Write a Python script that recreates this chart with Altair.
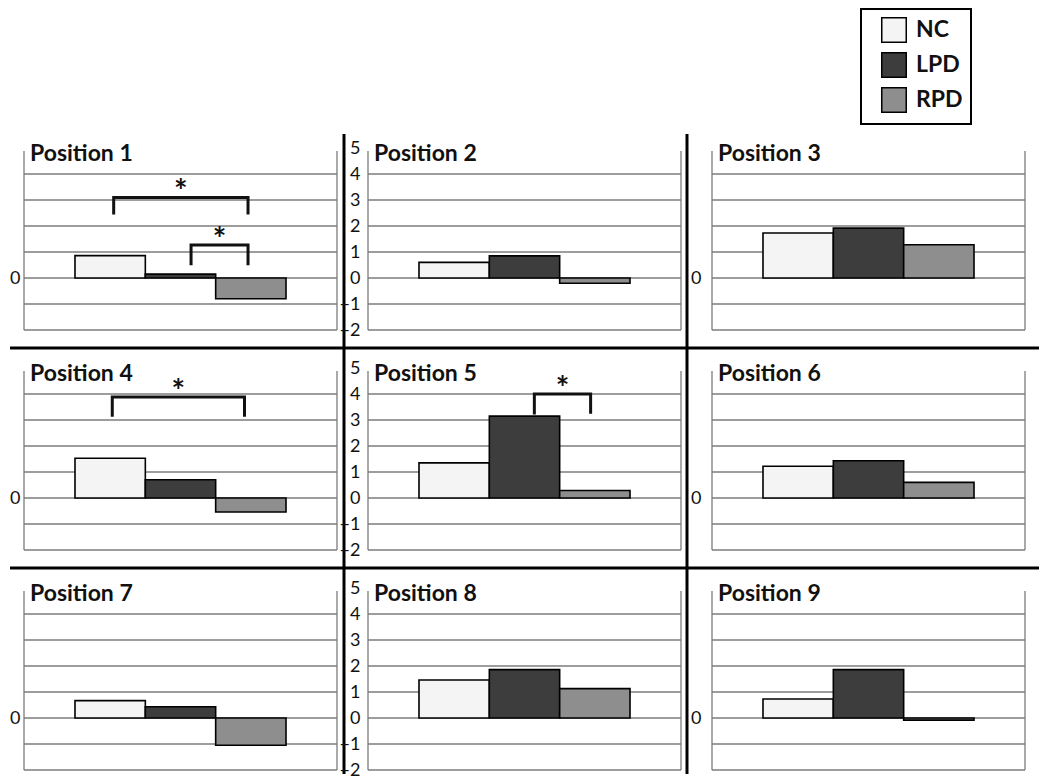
import altair as alt
import pandas as pd

# ---------------- data ----------------
groups = ["NC", "LPD", "RPD"]
group_colors = ["#f4f4f4", "#3d3d3d", "#8e8e8e"]
positions = ["Position 1", "Position 2", "Position 3",
             "Position 4", "Position 5", "Position 6",
             "Position 7", "Position 8", "Position 9"]
nc_vals = [0.86, 0.60, 1.73, 1.53, 1.35, 1.22, 0.67, 1.46, 0.73]
lpd_vals = [0.15, 0.85, 1.92, 0.70, 3.15, 1.43, 0.43, 1.86, 1.86]
rpd_vals = [-0.80, -0.20, 1.28, -0.54, 0.29, 0.60, -1.05, 1.13, -0.08]

y_label_full = [-2, -1, 0, 1, 2, 3, 4, 5]
y_label_side = [0]
grid_vals = [-2, -1, 0, 1, 2, 3, 4]

# significance brackets (x in bar-index units, y in data units)
br_panel = ["Position 1", "Position 1", "Position 4", "Position 5"]
br_x1 = [0.05, 1.15, 0.03, 1.14]
br_x2 = [1.96, 1.96, 1.91, 1.94]
br_top = [3.10, 1.27, 3.88, 4.00]
br_y1 = [2.50, 0.55, 3.18, 3.27]
br_y2 = [2.50, 0.55, 3.18, 3.30]
br_text = ["*", "*", "*", "*"]

# ---------------- tables ----------------
rows = []
for p, a, b, c in zip(positions, nc_vals, lpd_vals, rpd_vals):
    for k, (g, v) in enumerate(zip(groups, [a, b, c])):
        rows.append({"pos": p, "group": g, "x0": k - 0.5, "x1": k + 0.5,
                     "value": v, "base": 0})
bars = pd.DataFrame(rows)

br_rows, star_rows = [], []
for i, (p, x1, x2, t, y1, y2, s) in enumerate(
        zip(br_panel, br_x1, br_x2, br_top, br_y1, br_y2, br_text)):
    for o, (xx, yy) in enumerate([(x1, y1), (x1, t), (x2, t), (x2, y2)]):
        br_rows.append({"pos": p, "id": i, "o": o, "x": xx, "y": yy})
    star_rows.append({"pos": p, "x": (x1 + x2) / 2, "y": t, "s": s})
brackets = pd.DataFrame(br_rows)
stars = pd.DataFrame(star_rows)

one = pd.DataFrame({"a": [0]})

W, H = 313, 182
FONT = "Lato"
GRID = "#7c7c7c"
LABEL_SIZE = 18

xs = alt.Scale(domain=[-1.225, 3.225], nice=False, zero=False)
ys = alt.Scale(domain=[-2, 5], nice=False, zero=False)

legend_spec = alt.Legend(orient="none", legendX=837, legendY=-139,
                         title=None, direction="vertical")


def y_axis(labels, pad):
    return alt.Axis(values=labels, grid=False, domain=False, ticks=False,
                    tickSize=0, labelPadding=pad, labelFontSize=LABEL_SIZE,
                    labelFont=FONT, labelColor="#111111", title=None)


def sep(x=None, x2=None, y=None, y2=None):
    enc = {"x": alt.value(x), "y": alt.value(y)}
    if x2 is not None:
        enc["x2"] = alt.value(x2)
    if y2 is not None:
        enc["y2"] = alt.value(y2)
    return alt.Chart(one).mark_rule(color="black", strokeWidth=3).encode(**enc)


def panel(i):
    r, c = divmod(i, 3)
    pos = positions[i]
    d = bars[bars.pos == pos]
    ax = y_axis(y_label_full if c == 1 else y_label_side, [4, 8, 11][c])

    grid = alt.Chart(pd.DataFrame({"v": grid_vals})).mark_rule(
        color=GRID, strokeWidth=1.3).encode(
        y=alt.Y("v:Q", scale=ys, axis=ax))

    left = alt.Chart(one).mark_rule(color=GRID, strokeWidth=1.3).encode(
        x=alt.value(0), y=alt.value(3), y2=alt.value(H))
    right = alt.Chart(one).mark_rule(color=GRID, strokeWidth=1.3).encode(
        x=alt.value(W), y=alt.value(3), y2=alt.value(H))

    bar = alt.Chart(d).mark_bar(stroke="black", strokeWidth=1.6,
                                opacity=1).encode(
        x=alt.X("x0:Q", scale=xs, axis=None), x2="x1:Q",
        y=alt.Y("value:Q", scale=ys, axis=ax), y2="base:Q",
        color=alt.Color("group:N",
                        scale=alt.Scale(domain=groups, range=group_colors),
                        legend=legend_spec))

    title = alt.Chart(one).mark_text(
        text=pos, align="left", baseline="alphabetic", font=FONT,
        fontWeight="bold", fontSize=23, color="#111111").encode(
        x=alt.value(6), y=alt.value(13))

    layers = [grid, left, right, bar]

    b = brackets[brackets.pos == pos]
    if len(b):
        layers.append(alt.Chart(b).mark_line(
            color="#111111", strokeWidth=3, strokeCap="square",
            strokeJoin="miter").encode(
            x=alt.X("x:Q", scale=xs, axis=None),
            y=alt.Y("y:Q", scale=ys, axis=ax),
            detail="id:N", order="o:Q"))
        st = stars[stars.pos == pos]
        layers.append(alt.Chart(st).mark_text(
            font=FONT, fontWeight="bold", fontSize=32, color="#111111",
            baseline="alphabetic", dy=6).encode(
            x=alt.X("x:Q", scale=xs, axis=None),
            y=alt.Y("y:Q", scale=ys, axis=ax), text="s:N"))

    layers.append(title)

    # thick black separators
    if r < 2:
        x_start = -14 if c == 0 else 0
        x_end = W + 31 if c < 2 else W + 14
        layers.append(sep(x=x_start, x2=x_end, y=200))
    if c < 2:
        vx = W + 7 if c == 0 else W + 6
        y_start = -14 if r == 0 else 0
        y_end = 220 if r < 2 else H + 4
        layers.append(sep(x=vx, y=y_start, y2=y_end))

    return alt.layer(*layers).properties(width=W, height=H)


chart = alt.concat(*[panel(i) for i in range(9)], columns=3,
                   spacing={"row": 38, "column": 31}, bounds="flush").properties(
    padding=0
).configure_view(stroke=None).configure_axisY(
    labelFontSize=LABEL_SIZE, labelFont=FONT, labelColor="#111111"
).configure_legend(
    strokeColor="black", strokeWidth=2, padding=8, fillColor="white",
    symbolType="square", symbolSize=600, symbolStrokeColor="black",
    symbolStrokeWidth=1.5, symbolOpacity=1, symbolOffset=12,
    labelFont=FONT, labelFontWeight="bold", labelFontSize=23,
    labelColor="#111111", labelOffset=9, rowPadding=3
)

chart.save("out.html", embed_options={"renderer": "svg", "actions": False})
